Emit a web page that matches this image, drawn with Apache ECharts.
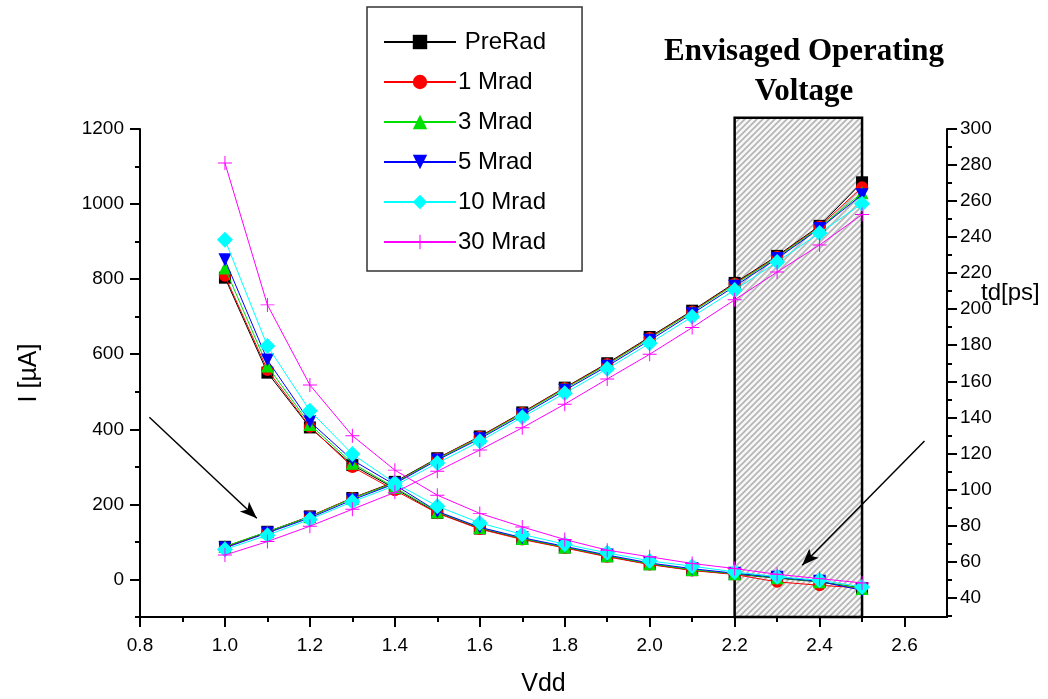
<!DOCTYPE html>
<html>
<head>
<meta charset="utf-8">
<script src="https://cdn.jsdelivr.net/npm/echarts@6/dist/echarts.min.js"></script>
<style>html,body{margin:0;padding:0;background:#fff}#c{width:1048px;height:699px}</style>
</head>
<body>
<div id="c"></div>
<script>
// ---- data ----
const vdd = [1.0, 1.1, 1.2, 1.3, 1.4, 1.5, 1.6, 1.7, 1.8, 1.9, 2.0, 2.1, 2.2, 2.3, 2.4, 2.5];
const seriesNames = ['PreRad', '1 Mrad', '3 Mrad', '5 Mrad', '10 Mrad', '30 Mrad'];
// current I [uA] (left axis)
const iPreRad = [87, 127, 168, 217, 260, 323, 381, 445, 511, 576, 646, 716, 790, 862, 942, 1058];
const i1Mrad  = [86, 126, 168, 217, 258, 322, 380, 444, 510, 574, 644, 714, 788, 860, 940, 1045];
const i3Mrad  = [88, 127, 167, 216, 257, 321, 378, 442, 508, 572, 642, 712, 786, 858, 938, 1030];
const i5Mrad  = [84, 124, 164, 212, 255, 318, 375, 438, 504, 568, 637, 708, 781, 855, 935, 1025];
const i10Mrad = [80, 118, 160, 207, 250, 310, 368, 432, 496, 561, 629, 700, 771, 846, 923, 1001];
const i30Mrad = [65, 101, 142, 187, 232, 288, 345, 404, 467, 534, 600, 671, 745, 819, 891, 972];
// delay td [ps] (right axis)
const tdPreRad = [217.5, 164.8, 134.4, 113.5, 100.5, 87.0, 78.3, 72.5, 67.8, 62.9, 58.5, 55.2, 53.0, 50.8, 48.7, 45.2];
const td1Mrad  = [218.5, 166.3, 134.8, 112.5, 99.5, 86.8, 78.0, 72.2, 67.5, 62.6, 58.3, 55.0, 52.8, 48.7, 46.8, 45.3];
const td3Mrad  = [222.8, 168.5, 136.0, 114.5, 101.0, 87.5, 78.8, 72.8, 68.0, 63.2, 58.8, 55.5, 53.2, 51.0, 48.8, 45.0];
const td5Mrad  = [227.4, 171.8, 137.6, 116.3, 102.5, 87.8, 79.0, 73.2, 68.4, 63.6, 59.2, 56.0, 53.5, 51.3, 49.0, 44.0];
const td10Mrad = [238.5, 179.6, 143.7, 119.6, 103.5, 90.7, 81.4, 75.0, 69.6, 64.8, 60.3, 57.4, 54.2, 51.5, 49.6, 45.9];
const td30Mrad = [281.1, 202.4, 157.9, 129.8, 110.7, 96.8, 86.7, 79.2, 72.2, 66.3, 62.6, 58.9, 56.1, 52.9, 50.5, 48.1];
// envisaged operating voltage window
const opWindow = [2.2, 2.5];
// axis ticks
const xMajor = [0.8, 1.0, 1.2, 1.4, 1.6, 1.8, 2.0, 2.2, 2.4, 2.6];
const xMinor = [0.9, 1.1, 1.3, 1.5, 1.7, 1.9, 2.1, 2.3, 2.5];
const yLeftMajor = [0, 200, 400, 600, 800, 1000, 1200];
const yLeftMinor = [-100, 100, 300, 500, 700, 900, 1100];
const yRightMajor = [40, 60, 80, 100, 120, 140, 160, 180, 200, 220, 240, 260, 280, 300];
const yRightMinor = [30, 50, 70, 90, 110, 130, 150, 170, 190, 210, 230, 250, 270, 290];
// annotation arrows (data coords on left axis)
const arrowLeft = [[0.822, 432], [1.075, 163]];
const arrowRight = [[2.647, 369], [2.359, 38]];

const iData = [iPreRad, i1Mrad, i3Mrad, i5Mrad, i10Mrad, i30Mrad];
const tdData = [tdPreRad, td1Mrad, td3Mrad, td5Mrad, td10Mrad, td30Mrad];

// ---- styles ----
const colors = ['#000000', '#ff0000', '#00e000', '#0000ff', '#00ffff', '#ff00ff'];
const plusPath = 'path://M-0.07,-1L0.07,-1L0.07,-0.07L1,-0.07L1,0.07L0.07,0.07L0.07,1L-0.07,1L-0.07,0.07L-1,0.07L-1,-0.07L-0.07,-0.07Z';
const symbols = ['rect', 'circle', 'triangle', 'path://M-1,-0.9L1,-0.9L0,0.9Z', 'diamond', plusPath];
const symSizes = [12, 12, 13, 13, 16, 14];

const pc = document.createElement('canvas');
pc.width = 6; pc.height = 6;
const g = pc.getContext('2d');
g.fillStyle = '#f7f7f7'; g.fillRect(0, 0, 6, 6);
g.strokeStyle = '#b4b4b4'; g.lineWidth = 1.6;
g.beginPath();
g.moveTo(0, 6); g.lineTo(6, 0);
g.moveTo(-3, 3); g.lineTo(3, -3);
g.moveTo(3, 9); g.lineTo(9, 3);
g.stroke();

const font = 'Liberation Sans, Arial, sans-serif';
const axisLineStyle = { color: '#000', width: 2 };

const series = [];
series.push({
  type: 'custom',
  name: 'window',
  xAxisIndex: 0, yAxisIndex: 0,
  clip: false, silent: true, z: 1,
  data: [[opWindow[0], opWindow[1], -100, 1230]],
  renderItem: function (params, api) {
    const a = api.coord([api.value(0), api.value(3)]);
    const b = api.coord([api.value(1), api.value(2)]);
    return {
      type: 'rect',
      shape: { x: a[0], y: a[1], width: b[0] - a[0], height: b[1] - a[1] },
      style: { fill: { image: pc, repeat: 'repeat' }, stroke: '#000', lineWidth: 2.5 }
    };
  }
});
for (let k = 0; k < seriesNames.length; k++) {
  const common = {
    type: 'line', name: seriesNames[k], xAxisIndex: 0,
    symbol: symbols[k], symbolSize: symSizes[k], showAllSymbol: true,
    lineStyle: { color: colors[k], width: 1 },
    itemStyle: { color: colors[k] },
    z: 3 + k, silent: true
  };
  series.push(Object.assign({}, common, {
    yAxisIndex: 0,
    data: vdd.map((x, j) => [x, iData[k][j]])
  }));
  series.push(Object.assign({}, common, {
    yAxisIndex: 1,
    data: vdd.map((x, j) => [x, tdData[k][j]])
  }));
}
series[1].markLine = {
  silent: true, animation: false,
  symbol: ['none', 'arrow'], symbolSize: [10, 17],
  label: { show: false },
  lineStyle: { color: '#000', width: 1.5, type: 'solid' },
  emphasis: { disabled: true },
  data: [
    [{ coord: arrowLeft[0] }, { coord: arrowLeft[1] }],
    [{ coord: arrowRight[0] }, { coord: arrowRight[1] }]
  ]
};

const chart = echarts.init(document.getElementById('c'), null, { renderer: 'canvas' });
chart.setOption({
  animation: false,
  backgroundColor: '#fff',
  title: {
    text: 'Envisaged Operating\nVoltage',
    left: 799, top: 27, textAlign: 'center',
    textStyle: { fontFamily: 'Liberation Serif, Times New Roman, serif', fontWeight: 'bold', fontSize: 31, lineHeight: 40, color: '#000' }
  },
  graphic: [{
    type: 'text', left: 981, top: 281,
    style: { text: 'td[ps]', font: '24px ' + font, fill: '#000' }
  }],
  legend: {
    orient: 'vertical', left: 367, top: 7,
    data: seriesNames,
    itemWidth: 72, itemHeight: 18, itemGap: 14,
    padding: [22, 36, 16, 16],
    borderColor: '#333', borderWidth: 1.5,
    formatter: n => (n === 'PreRad' ? ' ' + n : n),
    textStyle: { fontFamily: font, fontSize: 24, color: '#000', lineHeight: 26, padding: [0, 0, 0, -3] },
    selectedMode: false
  },
  grid: { left: 140, right: 101, top: 129, bottom: 82, containLabel: false, outerBoundsMode: 'none' },
  xAxis: [{
    type: 'value', min: 0.8, max: 2.7,
    name: 'Vdd', nameLocation: 'middle', nameGap: 55,
    nameTextStyle: { fontFamily: font, fontSize: 25, color: '#000' },
    axisLine: { onZero: false, lineStyle: axisLineStyle },
    axisTick: { show: true, length: 10, lineStyle: axisLineStyle, customValues: xMajor },
    axisLabel: { customValues: xMajor, formatter: v => v.toFixed(1), fontFamily: font, fontSize: 19, color: '#000', margin: 19 },
    splitLine: { show: false }
  }, {
    type: 'value', min: 0.8, max: 2.7, position: 'bottom',
    axisLine: { show: false, onZero: false },
    axisTick: { show: true, length: 5, lineStyle: axisLineStyle, customValues: xMinor },
    axisLabel: { show: false },
    splitLine: { show: false }
  }],
  yAxis: [{
    type: 'value', min: -100, max: 1200, position: 'left',
    name: 'I [\u00b5A]', nameLocation: 'middle', nameGap: 98,
    nameTextStyle: { fontFamily: font, fontSize: 25, color: '#000' },
    axisLine: { show: true, onZero: false, lineStyle: axisLineStyle },
    axisTick: { show: true, length: 10, lineStyle: axisLineStyle, customValues: yLeftMajor },
    axisLabel: { customValues: yLeftMajor, formatter: v => String(v), fontFamily: font, fontSize: 19, color: '#000', margin: 16 },
    splitLine: { show: false }
  }, {
    type: 'value', min: 29.2, max: 300, position: 'right',
    axisLine: { show: true, onZero: false, lineStyle: axisLineStyle },
    axisTick: { show: true, length: 10, lineStyle: axisLineStyle, customValues: yRightMajor },
    axisLabel: { customValues: yRightMajor, formatter: v => String(v), fontFamily: font, fontSize: 19, color: '#000', margin: 13 },
    splitLine: { show: false }
  }, {
    type: 'value', min: -100, max: 1200, position: 'left',
    axisLine: { show: false, onZero: false },
    axisTick: { show: true, length: 5, lineStyle: axisLineStyle, customValues: yLeftMinor },
    axisLabel: { show: false },
    splitLine: { show: false }
  }, {
    type: 'value', min: 29.2, max: 300, position: 'right',
    axisLine: { show: false, onZero: false },
    axisTick: { show: true, length: 5, lineStyle: axisLineStyle, customValues: yRightMinor },
    axisLabel: { show: false },
    splitLine: { show: false }
  }],
  series: series
});
</script>
</body>
</html>
